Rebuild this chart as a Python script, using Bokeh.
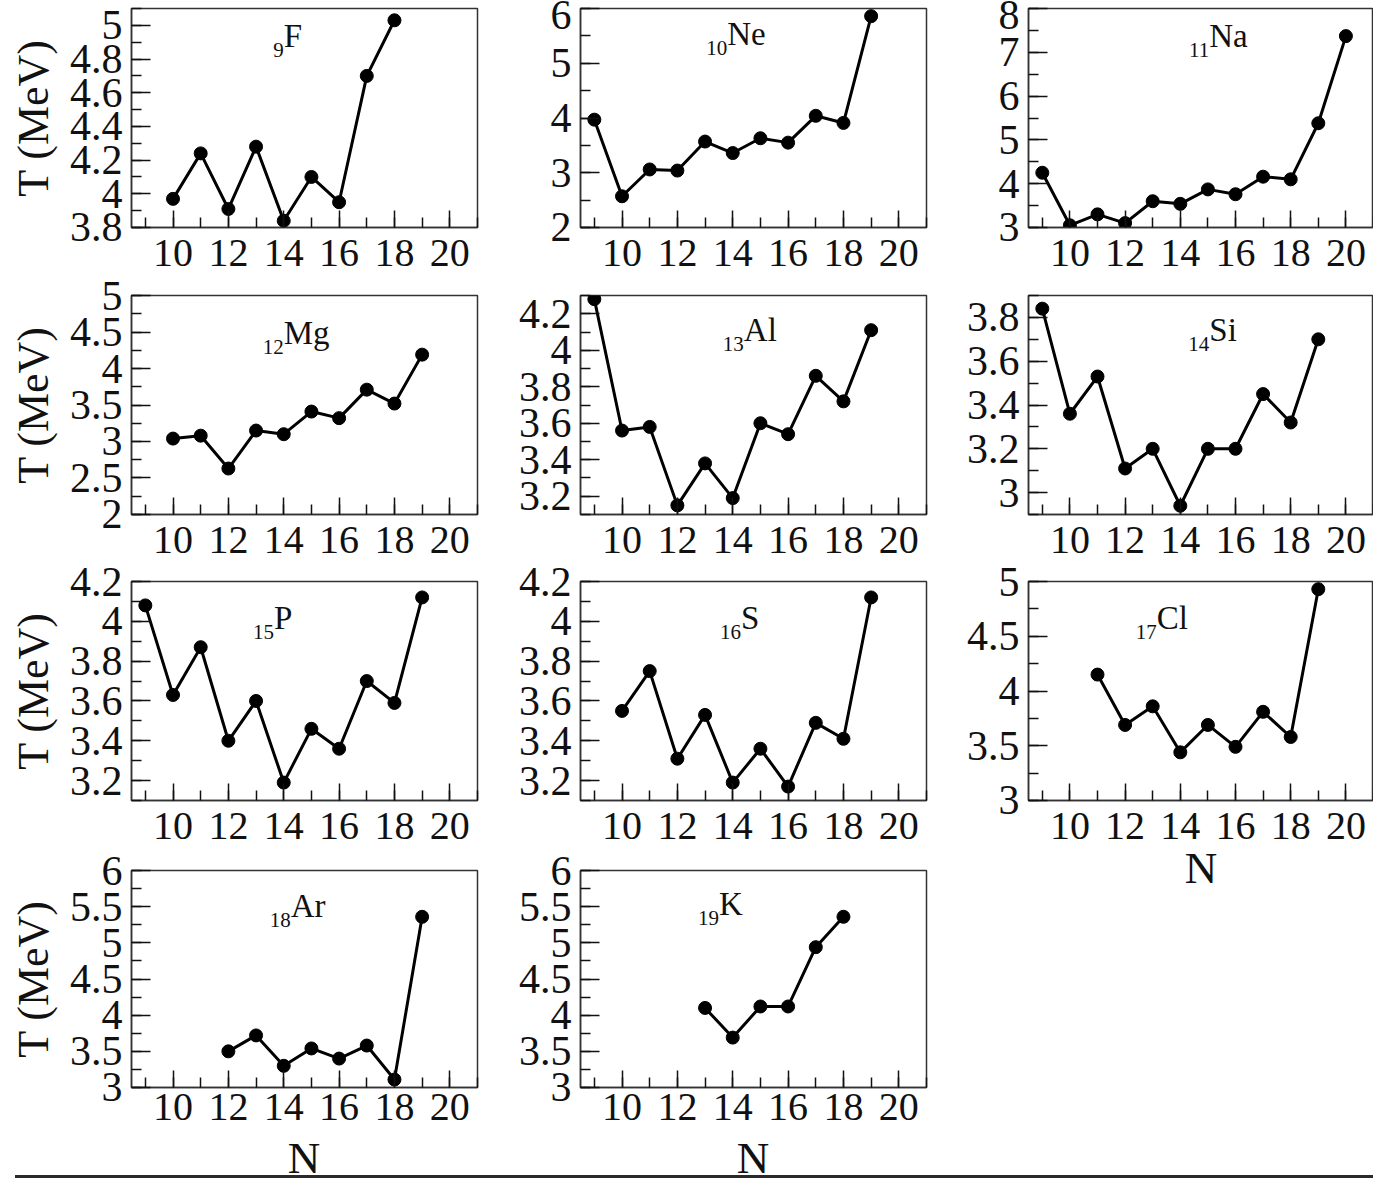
from bokeh.plotting import figure
from bokeh.layouts import row, column
from bokeh.models import Range1d, SingleIntervalTicker, CustomJSTickFormatter, Label, Div
from bokeh.embed import file_html
from bokeh.resources import INLINE

FONT = "Liberation Serif"
INK = "#111111"
FRAME = "#333333"

# Neutron number N and temperature T (MeV) for each isotope chain
n_F = [10, 11, 12, 13, 14, 15, 16, 17, 18]
t_F = [3.97, 4.24, 3.91, 4.28, 3.84, 4.10, 3.95, 4.70, 5.03]

n_Ne = [9, 10, 11, 12, 13, 14, 15, 16, 17, 18, 19]
t_Ne = [3.97, 2.57, 3.06, 3.04, 3.57, 3.36, 3.63, 3.55, 4.04, 3.91, 5.86]

n_Na = [9, 10, 11, 12, 13, 14, 15, 16, 17, 18, 19, 20]
t_Na = [4.25, 3.05, 3.30, 3.10, 3.60, 3.54, 3.87, 3.76, 4.16, 4.10, 5.38, 7.37]

n_Mg = [10, 11, 12, 13, 14, 15, 16, 17, 18, 19]
t_Mg = [3.04, 3.08, 2.63, 3.15, 3.10, 3.41, 3.32, 3.71, 3.52, 4.19]

n_Al = [9, 10, 11, 12, 13, 14, 15, 16, 17, 18, 19]
t_Al = [4.28, 3.56, 3.58, 3.15, 3.38, 3.19, 3.60, 3.54, 3.86, 3.72, 4.11]

n_Si = [9, 10, 11, 12, 13, 14, 15, 16, 17, 18, 19]
t_Si = [3.84, 3.36, 3.53, 3.11, 3.20, 2.94, 3.20, 3.20, 3.45, 3.32, 3.70]

n_P = [9, 10, 11, 12, 13, 14, 15, 16, 17, 18, 19]
t_P = [4.08, 3.63, 3.87, 3.40, 3.60, 3.19, 3.46, 3.36, 3.70, 3.59, 4.12]

n_S = [10, 11, 12, 13, 14, 15, 16, 17, 18, 19]
t_S = [3.55, 3.75, 3.31, 3.53, 3.19, 3.36, 3.17, 3.49, 3.41, 4.12]

n_Cl = [11, 12, 13, 14, 15, 16, 17, 18, 19]
t_Cl = [4.15, 3.69, 3.86, 3.44, 3.69, 3.49, 3.81, 3.58, 4.93]

n_Ar = [12, 13, 14, 15, 16, 17, 18, 19]
t_Ar = [3.50, 3.72, 3.30, 3.54, 3.40, 3.58, 3.11, 5.36]

n_K = [13, 14, 15, 16, 17, 18]
t_K = [4.10, 3.69, 4.12, 4.12, 4.94, 5.36]

X_RANGE = (8.5, 21.0)


def make_panel(n, t, y_range, y_step, z, sym, sym_x, sym_drop,
               width, height, borders, y_title=False, x_title=False,
               tick_gap=12):
    left, right, top, bottom = borders
    frame_h = height - top - bottom
    y0, y1 = y_range
    p = figure(width=width, height=height,
               x_range=Range1d(*X_RANGE),
               y_range=Range1d(y0 - 1e-6, y1 + 1e-6),
               output_backend="svg", toolbar_location=None, tools="",
               min_border_left=left, min_border_right=right,
               min_border_top=top, min_border_bottom=bottom)
    p.grid.visible = False
    p.background_fill_color = "white"
    p.border_fill_color = "white"
    p.outline_line_color = FRAME
    p.outline_line_width = 1.5

    p.xaxis.ticker = SingleIntervalTicker(interval=2, num_minor_ticks=2)
    p.yaxis.ticker = SingleIntervalTicker(interval=y_step, num_minor_ticks=2)
    p.yaxis.formatter = CustomJSTickFormatter(
        code="return String(Math.round(tick * 10) / 10);")

    for ax in (p.xaxis[0], p.yaxis[0]):
        ax.axis_line_color = FRAME
        ax.axis_line_width = 1.5
        ax.major_tick_line_color = INK
        ax.major_tick_line_width = 1.5
        ax.minor_tick_line_color = INK
        ax.minor_tick_line_width = 1.5
        ax.major_tick_out = 0
        ax.minor_tick_out = 0
        ax.minor_tick_in = 10
        ax.major_label_text_font = FONT
        ax.major_label_text_color = INK
    p.xaxis.major_tick_in = 17
    p.yaxis.major_tick_in = 19
    p.xaxis.major_label_text_font_size = "40px"
    p.yaxis.major_label_text_font_size = "42px"
    p.xaxis.major_label_standoff = tick_gap
    p.yaxis.major_label_standoff = 9

    if y_title:
        p.yaxis.axis_label = "T (MeV)"
        p.yaxis.axis_label_text_font = FONT
        p.yaxis.axis_label_text_font_size = "44px"
        p.yaxis.axis_label_text_font_style = "normal"
        p.yaxis.axis_label_text_color = INK
        p.yaxis.axis_label_standoff = 9
    if x_title:
        p.xaxis.axis_label = "N"
        p.xaxis.axis_label_text_font = FONT
        p.xaxis.axis_label_text_font_size = "45px"
        p.xaxis.axis_label_text_font_style = "normal"
        p.xaxis.axis_label_text_color = INK
        p.xaxis.axis_label_standoff = 1

    p.line(n, t, line_width=3, line_color="black")
    p.scatter(n, t, marker="circle", size=13, fill_color="black", line_color="black")

    # element symbol with its proton number as a left subscript
    per_px = (y1 - y0) / frame_h
    y_main = y1 - sym_drop * per_px
    y_sub = y1 - (sym_drop + 14) * per_px
    p.add_layout(Label(x=sym_x, y=y_main, text=sym, text_font=FONT,
                       text_font_size="33px", text_color=INK,
                       text_align="left", text_baseline="alphabetic"))
    p.add_layout(Label(x=sym_x, y=y_sub, text=str(z), text_font=FONT,
                       text_font_size="21px", text_color=INK,
                       text_align="right", text_baseline="alphabetic"))
    return p


# figure geometry: (left, right, top, bottom) borders around a 346 x 219 frame
W1, W2, W3 = 500, 449, 424
B1 = (131, 23)
B2 = (80, 23)
B3 = (79, 0)

p_F = make_panel(n_F, t_F, (3.8, 5.1), 0.2, 9, "F", 14.0, 27,
                 W1, 277, B1 + (8, 50), y_title=True)
p_Mg = make_panel(n_Mg, t_Mg, (2.0, 5.0), 0.5, 12, "Mg", 14.0, 37,
                  W1, 287, B1 + (18, 50), y_title=True)
p_P = make_panel(n_P, t_P, (3.1, 4.2), 0.2, 15, "P", 13.65, 36,
                 W1, 286, B1 + (17, 50), y_title=True)
p_Ar = make_panel(n_Ar, t_Ar, (3.0, 6.0), 0.5, 18, "Ar", 14.25, 35,
                  W1, 285, B1 + (20, 48), y_title=True, tick_gap=6)

p_Ne = make_panel(n_Ne, t_Ne, (2.0, 6.0), 1.0, 10, "Ne", 13.8, 25,
                  W2, 277, B2 + (8, 50))
p_Al = make_panel(n_Al, t_Al, (3.1, 4.3), 0.2, 13, "Al", 14.4, 34,
                  W2, 287, B2 + (18, 50))
p_S = make_panel(n_S, t_S, (3.1, 4.2), 0.2, 16, "S", 14.3, 36,
                 W2, 286, B2 + (17, 50))
p_K = make_panel(n_K, t_K, (3.0, 6.0), 0.5, 19, "K", 13.5, 33,
                 W2, 285, B2 + (20, 48), tick_gap=6)

p_Na = make_panel(n_Na, t_Na, (3.0, 8.0), 1.0, 11, "Na", 15.05, 27,
                  W3, 277, B3 + (8, 50))
p_Si = make_panel(n_Si, t_Si, (2.9, 3.9), 0.2, 14, "Si", 15.05, 34,
                  W3, 287, B3 + (18, 50))
p_Cl = make_panel(n_Cl, t_Cl, (3.0, 5.0), 0.5, 17, "Cl", 13.15, 36,
                  W3, 336, B3 + (17, 100), x_title=True)

grid = row(column(p_F, p_Mg, p_P, p_Ar),
           column(p_Ne, p_Al, p_S, p_K),
           column(p_Na, p_Si, p_Cl))

# strip under the bottom row: the shared "N" titles and the closing rule
n_title = ("position:absolute;top:3px;width:80px;text-align:center;"
           "font-family:'Liberation Serif';font-size:45px;line-height:40px;"
           "color:%s;" % INK)
footer_html = (
    '<div style="position:relative;width:1373px;height:43px;">'
    '<span style="%sleft:264px;">N</span>'
    '<span style="%sleft:713px;">N</span>'
    '<div style="position:absolute;left:15px;top:40px;width:1358px;'
    'height:3px;background:#2a2a2a;"></div>'
    '</div>' % (n_title, n_title)
)
footer = Div(text=footer_html, width=1373, height=43, margin=(0, 0, 0, 0))

layout = column(grid, footer)

open("out.html", "w").write(file_html(layout, INLINE))
